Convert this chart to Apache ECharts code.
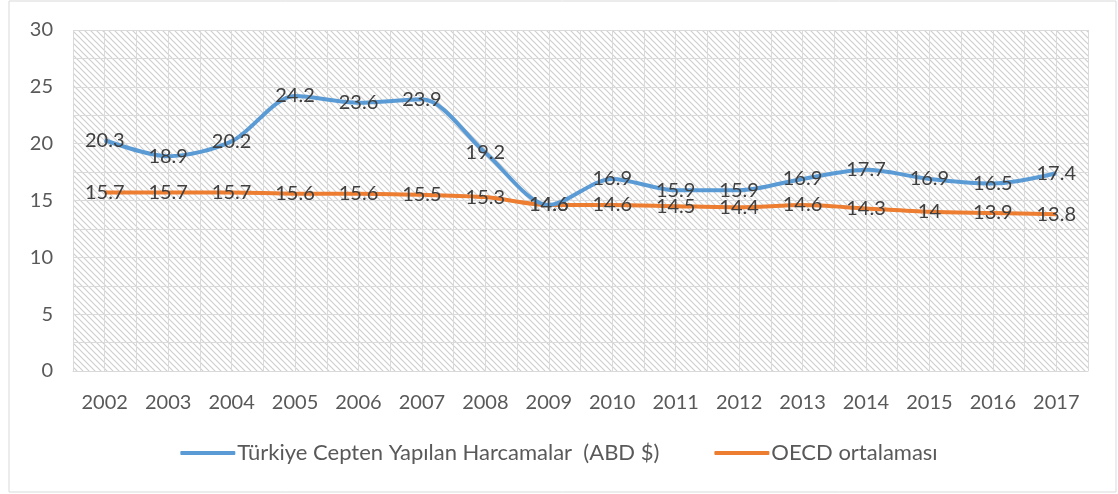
<!DOCTYPE html>
<html><head><meta charset="utf-8">
<script src="https://cdn.jsdelivr.net/npm/echarts@6/dist/echarts.min.js"></script>
<style>html,body{margin:0;padding:0;background:#fff}#c{width:1118px;height:494px}</style>
</head><body><div id="c"></div>
<script>
const years = ['2002','2003','2004','2005','2006','2007','2008','2009','2010','2011','2012','2013','2014','2015','2016','2017'];
const turkiye = [20.3,18.9,20.2,24.2,23.6,23.9,19.2,14.6,16.9,15.9,15.9,16.9,17.7,16.9,16.5,17.4];
const oecd = [15.7,15.7,15.7,15.6,15.6,15.5,15.3,14.6,14.6,14.5,14.4,14.6,14.3,14,13.9,13.8];
const seriesNames = ['Türkiye Cepten Yapılan Harcamalar  (ABD $)','OECD ortalaması'];
// half-category slots used only for the vertical gridlines
const halfSlots = years.flatMap(y => [y + 'a', y + 'b']);

const pc = document.createElement('canvas');
pc.width = 6; pc.height = 6;
const g = pc.getContext('2d');
g.fillStyle = '#ffffff'; g.fillRect(0,0,6,6);
g.strokeStyle = '#cfcfcf'; g.lineWidth = 1.2;
g.beginPath();
g.moveTo(-1,-1); g.lineTo(7,7);
g.moveTo(-1,5); g.lineTo(1,7);
g.moveTo(5,-1); g.lineTo(7,1);
g.stroke();

const font = 'Lato, "Open Sans", sans-serif';
const chart = echarts.init(document.getElementById('c'));
const lbl = {show:true, position:'inside', color:'#404040', fontSize:20, fontFamily:font};
chart.setOption({
  animation:false,
  backgroundColor:'#fff',
  graphic:[{type:'rect', shape:{x:9,y:1,width:1107,height:491}, style:{fill:'none', stroke:'#d9d9d9', lineWidth:1}}],
  grid:{left:73,right:30,top:30,bottom:123,show:true,backgroundColor:{image:pc,repeat:'repeat'},borderWidth:0},
  legend:{bottom:25,left:'center',itemWidth:55,itemHeight:4,itemGap:55,icon:'roundRect',
    textStyle:{color:'#595959',fontSize:22,fontFamily:font,padding:[0,0,0,-3]}},
  xAxis:[{type:'category',data:years,boundaryGap:true,
    axisLine:{lineStyle:{color:'#d9d9d9',width:1}},axisTick:{show:false},
    axisLabel:{color:'#595959',fontSize:20,fontFamily:font,margin:22},splitLine:{show:false}},
   {type:'category',data:halfSlots,boundaryGap:true,position:'bottom',
    axisLine:{show:false},axisTick:{show:false,interval:0},axisLabel:{show:false,interval:0},
    splitLine:{show:true,interval:0,lineStyle:{color:'#dadada',width:1}}}],
  yAxis:{type:'value',min:0,max:30,interval:5,
    axisLine:{show:false},axisTick:{show:false},
    axisLabel:{color:'#595959',fontSize:20,fontFamily:font,margin:20},
    splitLine:{lineStyle:{color:'#dadada',width:1}},
    minorTick:{show:false,splitNumber:2},
    minorSplitLine:{show:true,lineStyle:{color:'#dadada',width:1}}},
  series:[
    {name:seriesNames[0],type:'line',data:turkiye,smooth:0.3,symbol:'circle',symbolSize:1,showSymbol:true,
     lineStyle:{color:'#5B9BD5',width:4},itemStyle:{color:'#5B9BD5'},label:lbl,z:3},
    {name:seriesNames[1],type:'line',data:oecd,smooth:0.3,symbol:'circle',symbolSize:1,showSymbol:true,
     lineStyle:{color:'#ED7D31',width:4},itemStyle:{color:'#ED7D31'},label:lbl,z:2}
  ]
});
</script></body></html>
